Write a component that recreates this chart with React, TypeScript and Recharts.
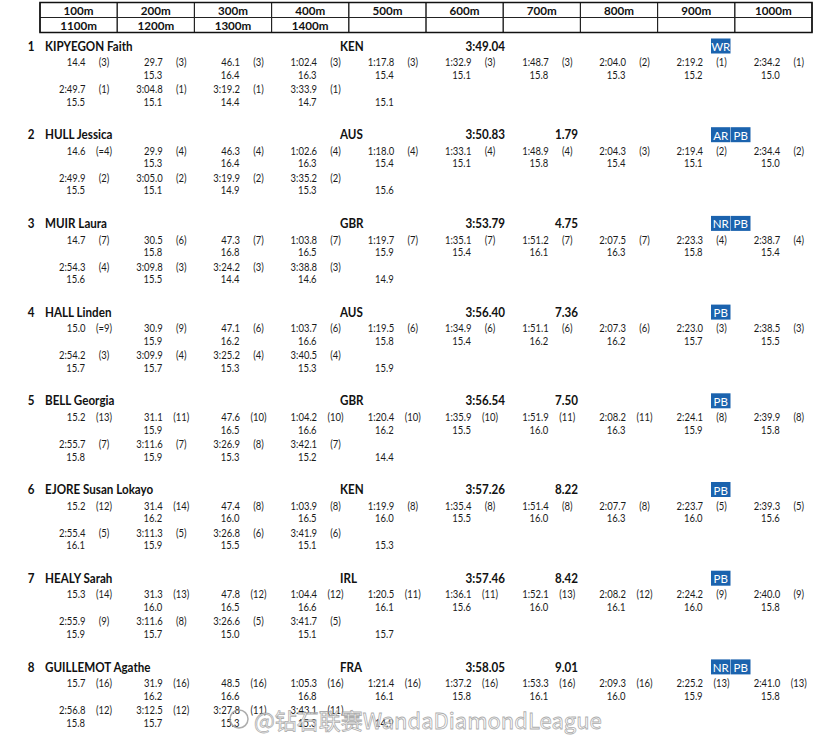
import { ScatterChart, Scatter, XAxis, YAxis, ReferenceArea } from "recharts";

// split distances shown in the header grid
const headerTop = ["100m", "200m", "300m", "400m", "500m", "600m", "700m", "800m", "900m", "1000m"];
const headerBottom = ["1100m", "1200m", "1300m", "1400m", "", "", "", "", "", ""];

const places = ["1", "2", "3", "4", "5", "6", "7", "8"];
const names = [
  "KIPYEGON Faith",
  "HULL Jessica",
  "MUIR Laura",
  "HALL Linden",
  "BELL Georgia",
  "EJORE Susan Lokayo",
  "HEALY Sarah",
  "GUILLEMOT Agathe",
];
const countries = ["KEN", "AUS", "GBR", "AUS", "GBR", "KEN", "IRL", "FRA"];
const finalTimes = ["3:49.04", "3:50.83", "3:53.79", "3:56.40", "3:56.54", "3:57.26", "3:57.46", "3:58.05"];
const gaps = ["", "1.79", "4.75", "7.36", "7.50", "8.22", "8.42", "9.01"];
const records = [["WR"], ["AR", "PB"], ["NR", "PB"], ["PB"], ["PB"], ["PB"], ["PB"], ["NR", "PB"]];

// cumulative time at 100m ... 1400m
const splitTimes = [
  ["14.4", "29.7", "46.1", "1:02.4", "1:17.8", "1:32.9", "1:48.7", "2:04.0", "2:19.2", "2:34.2", "2:49.7", "3:04.8", "3:19.2", "3:33.9"],
  ["14.6", "29.9", "46.3", "1:02.6", "1:18.0", "1:33.1", "1:48.9", "2:04.3", "2:19.4", "2:34.4", "2:49.9", "3:05.0", "3:19.9", "3:35.2"],
  ["14.7", "30.5", "47.3", "1:03.8", "1:19.7", "1:35.1", "1:51.2", "2:07.5", "2:23.3", "2:38.7", "2:54.3", "3:09.8", "3:24.2", "3:38.8"],
  ["15.0", "30.9", "47.1", "1:03.7", "1:19.5", "1:34.9", "1:51.1", "2:07.3", "2:23.0", "2:38.5", "2:54.2", "3:09.9", "3:25.2", "3:40.5"],
  ["15.2", "31.1", "47.6", "1:04.2", "1:20.4", "1:35.9", "1:51.9", "2:08.2", "2:24.1", "2:39.9", "2:55.7", "3:11.6", "3:26.9", "3:42.1"],
  ["15.2", "31.4", "47.4", "1:03.9", "1:19.9", "1:35.4", "1:51.4", "2:07.7", "2:23.7", "2:39.3", "2:55.4", "3:11.3", "3:26.8", "3:41.9"],
  ["15.3", "31.3", "47.8", "1:04.4", "1:20.5", "1:36.1", "1:52.1", "2:08.2", "2:24.2", "2:40.0", "2:55.9", "3:11.6", "3:26.6", "3:41.7"],
  ["15.7", "31.9", "48.5", "1:05.3", "1:21.4", "1:37.2", "1:53.3", "2:09.3", "2:25.2", "2:41.0", "2:56.8", "3:12.5", "3:27.8", "3:43.1"],
];

// position in the race at each split
const splitPlaces = [
  ["3", "3", "3", "3", "3", "3", "3", "2", "1", "1", "1", "1", "1", "1"],
  ["=4", "4", "4", "4", "4", "4", "4", "3", "2", "2", "2", "2", "2", "2"],
  ["7", "6", "7", "7", "7", "7", "7", "7", "4", "4", "4", "3", "3", "3"],
  ["=9", "9", "6", "6", "6", "6", "6", "6", "3", "3", "3", "4", "4", "4"],
  ["13", "11", "10", "10", "10", "10", "11", "11", "8", "8", "7", "7", "8", "7"],
  ["12", "14", "8", "8", "8", "8", "8", "8", "5", "5", "5", "5", "6", "6"],
  ["14", "13", "12", "12", "11", "11", "13", "12", "9", "9", "9", "8", "5", "5"],
  ["16", "16", "16", "16", "16", "16", "16", "16", "13", "13", "12", "12", "11", "11"],
];

// 100m segment times, 200m ... 1500m
const lapTimes = [
  ["15.3", "16.4", "16.3", "15.4", "15.1", "15.8", "15.3", "15.2", "15.0", "15.5", "15.1", "14.4", "14.7", "15.1"],
  ["15.3", "16.4", "16.3", "15.4", "15.1", "15.8", "15.4", "15.1", "15.0", "15.5", "15.1", "14.9", "15.3", "15.6"],
  ["15.8", "16.8", "16.5", "15.9", "15.4", "16.1", "16.3", "15.8", "15.4", "15.6", "15.5", "14.4", "14.6", "14.9"],
  ["15.9", "16.2", "16.6", "15.8", "15.4", "16.2", "16.2", "15.7", "15.5", "15.7", "15.7", "15.3", "15.3", "15.9"],
  ["15.9", "16.5", "16.6", "16.2", "15.5", "16.0", "16.3", "15.9", "15.8", "15.8", "15.9", "15.3", "15.2", "14.4"],
  ["16.2", "16.0", "16.5", "16.0", "15.5", "16.0", "16.3", "16.0", "15.6", "16.1", "15.9", "15.5", "15.1", "15.3"],
  ["16.0", "16.5", "16.6", "16.1", "15.6", "16.0", "16.1", "16.0", "15.8", "15.9", "15.7", "15.0", "15.1", "15.7"],
  ["16.2", "16.6", "16.8", "16.1", "15.8", "16.1", "16.0", "15.9", "15.8", "15.8", "15.7", "15.3", "15.3", "14.9"],
];

const watermark = "@钻石联赛WandaDiamondLeague";

const W = 821;
const H = 741;
const LEFT = 40; // left edge of the grid
const COL = 77.2; // one split column
const TOP = 46; // first athlete name line
const BLOCK = 88.7; // one athlete block
const yPx = (p: number) => (p - TOP) / BLOCK;
const dx = (p: number) => p / COL;
const LINE_DY = [16, 28.5, 43, 55.5].map((v) => v / BLOCK);

type Pt = { x: number; y: number; text: string; kind: string };

const points: Pt[] = [];
headerTop.forEach((t, c) => points.push({ x: c + 0.5, y: yPx(10), text: t, kind: "head" }));
headerBottom.forEach((t, c) => t && points.push({ x: c + 0.5, y: yPx(25), text: t, kind: "head" }));

names.forEach((name, i) => {
  points.push({ x: dx(-9), y: i, text: places[i], kind: "bold" });
  points.push({ x: dx(5), y: i, text: name, kind: "name" });
  points.push({ x: dx(300), y: i, text: countries[i], kind: "name" });
  points.push({ x: dx(465), y: i, text: finalTimes[i], kind: "boldEnd" });
  if (gaps[i]) points.push({ x: dx(538), y: i, text: gaps[i], kind: "boldEnd" });
  records[i].forEach((r, k) => points.push({ x: dx(671 + k * 20), y: i, text: r, kind: "badge" }));
  splitTimes[i].forEach((t, j) => {
    const col = j % 10;
    const line = j < 10 ? 0 : 2;
    points.push({ x: col + dx(45.5), y: i + LINE_DY[line], text: t, kind: "val" });
    points.push({ x: col + dx(64), y: i + LINE_DY[line], text: `(${splitPlaces[i][j]})`, kind: "place" });
  });
  lapTimes[i].forEach((t, k) => {
    const j = k + 1;
    const col = j % 10;
    const line = j < 10 ? 1 : 3;
    points.push({ x: col + dx(45), y: i + LINE_DY[line], text: t, kind: "val" });
  });
});
points.push({ x: dx(188), y: yPx(719), text: watermark, kind: "mark" });

const STYLES: Record<string, { size: number; weight: number; anchor: string; sx: number; fill: string }> = {
  head: { size: 12, weight: 700, anchor: "middle", sx: 0.97, fill: "#111" },
  bold: { size: 12.5, weight: 700, anchor: "middle", sx: 0.93, fill: "#111" },
  name: { size: 12.5, weight: 700, anchor: "start", sx: 0.93, fill: "#111" },
  boldEnd: { size: 12.5, weight: 700, anchor: "end", sx: 0.93, fill: "#111" },
  val: { size: 11, weight: 400, anchor: "end", sx: 0.86, fill: "#1a1a1a" },
  place: { size: 11, weight: 400, anchor: "middle", sx: 0.86, fill: "#1a1a1a" },
};

function Mark(props: any) {
  const { cx, cy, payload } = props;
  const p = payload as Pt;
  if (cx == null || cy == null) return null;
  if (p.kind === "badge") {
    return (
      <g>
        <rect x={cx} y={cy - 7.5} width={19.5} height={15} fill="#1b63ae" />
        <text x={cx + 9.75} y={cy + 0.5} textAnchor="middle" dominantBaseline="central" fill="#fff" fontFamily="Lato" fontSize={11.5}>
          {p.text}
        </text>
      </g>
    );
  }
  if (p.kind === "mark") {
    return (
      <g opacity={0.8}>
        <circle cx={cx + 11} cy={cy} r={9} fill="none" stroke="#999" strokeWidth={1.5} />
        <text
          x={cx + 26}
          y={cy}
          dominantBaseline="central"
          fontFamily="'Noto Sans CJK SC', 'Noto Sans'"
          fontSize={22}
          fill="#fff"
          stroke="#999"
          strokeWidth={0.8}
        >
          {p.text}
        </text>
      </g>
    );
  }
  const s = STYLES[p.kind];
  return (
    <text
      transform={`translate(${cx},${cy}) scale(${s.sx},1)`}
      textAnchor={s.anchor as any}
      dominantBaseline="central"
      fontFamily="Lato"
      fontSize={s.size}
      fontWeight={s.weight}
      fill={s.fill}
    >
      {p.text}
    </text>
  );
}

export default function App() {
  return (
    <div style={{ position: "absolute", left: 0, top: 0, width: W, height: H, background: "#fff" }}>
      <ScatterChart width={W} height={H} margin={{ top: 0, right: 0, bottom: 0, left: 0 }}>
        <XAxis type="number" dataKey="x" domain={[-LEFT / COL, (W - LEFT) / COL]} hide />
        <YAxis type="number" dataKey="y" domain={[yPx(0), yPx(H)]} reversed hide />
        {[0, 1].map((r) =>
          headerTop.map((_, c) => (
            <ReferenceArea
              key={`${r}-${c}`}
              x1={c}
              x2={c + 1}
              y1={yPx(2.5 + r * 15)}
              y2={yPx(17.5 + r * 15)}
              fill="none"
              fillOpacity={0}
              stroke="#222"
              strokeWidth={1}
            />
          ))
        )}
        <ReferenceArea x1={0} x2={10} y1={yPx(2.5)} y2={yPx(32.5)} fill="none" fillOpacity={0} stroke="#111" strokeWidth={1.6} />
        <Scatter data={points} shape={Mark} isAnimationActive={false} />
      </ScatterChart>
    </div>
  );
}
